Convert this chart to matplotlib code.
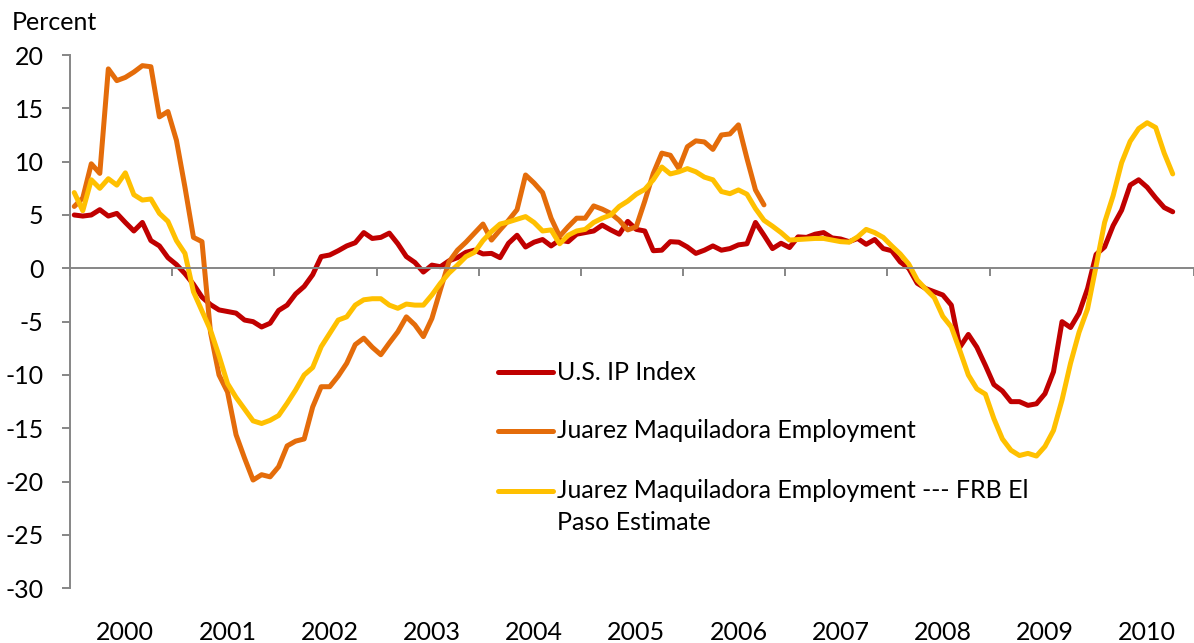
import numpy as np
import matplotlib
matplotlib.use("Agg")
import matplotlib.pyplot as plt
from matplotlib.lines import Line2D
import matplotlib.transforms as mtransforms

plt.rcParams['font.family'] = ['Lato', 'DejaVu Sans']

years = ['2000', '2001', '2002', '2003', '2004', '2005', '2006', '2007', '2008', '2009', '2010']
yticks = [20, 15, 10, 5, 0, -5, -10, -15, -20, -25, -30]

us_ip = [
    5.0, 4.9, 5.0, 5.5, 4.9, 5.15, 4.3, 3.5, 4.3, 2.6,
    2.1, 1.0, 0.35, -0.5, -1.5, -2.7, -3.4, -3.9, -4.05, -4.2,
    -4.85, -5.0, -5.5, -5.15, -3.95, -3.45, -2.4, -1.7, -0.6, 1.1,
    1.25, 1.65, 2.1, 2.4, 3.35, 2.8, 2.9, 3.3, 2.3, 1.1,
    0.55, -0.35, 0.3, 0.15, 0.7, 1.0, 1.5, 1.7, 1.35, 1.4,
    1.0, 2.35, 3.1, 2.0, 2.45, 2.7, 2.1, 2.65, 2.5, 3.2,
    3.35, 3.5, 4.05, 3.6, 3.2, 4.4, 3.65, 3.5, 1.65, 1.7,
    2.5, 2.45, 2.0, 1.4, 1.7, 2.1, 1.7, 1.85, 2.2, 2.3,
    4.3, 3.1, 1.85, 2.35, 1.95, 2.95, 2.9, 3.2, 3.35, 2.85,
    2.75, 2.5, 2.8, 2.25, 2.7, 1.85, 1.65, 0.6, 0.0, -1.4,
    -1.9, -2.2, -2.5, -3.45, -7.4, -6.2, -7.4, -9.1, -10.9, -11.5,
    -12.5, -12.5, -12.85, -12.7, -11.75, -9.7, -5.0, -5.55, -4.2, -1.9,
    1.3, 2.0, 4.0, 5.45, 7.8, 8.3, 7.6, 6.6, 5.7, 5.3,
]

juarez = [
    5.8, 6.6, 9.8, 8.9, 18.7, 17.6, 17.9, 18.4, 19.0, 18.9,
    14.2, 14.7, 12.0, 7.6, 2.9, 2.5, -6.0, -10.0, -11.6, -15.6,
    -17.8, -19.85, -19.35, -19.55, -18.6, -16.65, -16.2, -16.0, -13.0, -11.1,
    -11.1, -10.1, -8.9, -7.15, -6.55, -7.4, -8.1, -7.0, -5.95, -4.55,
    -5.3, -6.4, -4.7, -2.0, 0.6, 1.7, 2.45, 3.3, 4.15, 2.65,
    3.6, 4.5, 5.5, 8.75, 8.0, 7.1, 4.7, 3.0, 3.9, 4.7,
    4.7, 5.85, 5.55, 5.15, 4.5, 3.6, 3.9, 6.3, 8.9, 10.8,
    10.6, 9.35, 11.4, 11.95, 11.85, 11.15, 12.5, 12.6, 13.45, 10.3,
    7.35, 5.95,
]

juarez_est = [
    7.1, 5.4, 8.3, 7.5, 8.4, 7.8, 8.95, 6.9, 6.4, 6.5,
    5.15, 4.4, 2.6, 1.4, -2.2, -4.0, -5.8, -8.2, -10.8, -12.1,
    -13.2, -14.3, -14.55, -14.25, -13.8, -12.65, -11.4, -10.0, -9.3, -7.35,
    -6.1, -4.85, -4.55, -3.45, -2.95, -2.85, -2.85, -3.45, -3.75, -3.35,
    -3.45, -3.45, -2.5, -1.4, -0.45, 0.3, 1.1, 1.5, 2.6, 3.45,
    4.15, 4.35, 4.6, 4.85, 4.3, 3.5, 3.6, 2.3, 3.1, 3.5,
    3.65, 4.3, 4.7, 5.0, 5.8, 6.3, 6.95, 7.4, 8.3, 9.5,
    8.85, 9.05, 9.35, 9.05, 8.55, 8.3, 7.2, 7.0, 7.35, 6.95,
    5.6, 4.5, 3.95, 3.35, 2.65, 2.7, 2.75, 2.8, 2.8, 2.65,
    2.5, 2.45, 2.95, 3.65, 3.35, 2.9, 2.1, 1.35, 0.4, -1.1,
    -1.95, -2.75, -4.5, -5.5, -7.7, -10.0, -11.3, -11.8, -14.1, -16.0,
    -17.05, -17.55, -17.35, -17.6, -16.7, -15.2, -12.35, -8.9, -6.0, -3.8,
    0.2, 4.3, 6.8, 9.9, 11.9, 13.1, 13.65, 13.2, 10.8, 8.85,
]

labels = ['U.S. IP Index', 'Juarez Maquiladora Employment',
          'Juarez Maquiladora Employment --- FRB El\nPaso Estimate']
colors = ['#C00000', '#E46C0A', '#FFC000']

W, H = 1194, 643
fig = plt.figure(figsize=(W / 100, H / 100), dpi=100)
x0, x1 = 70, 1194
ytop, ybot = 55, 588.3
ax = fig.add_axes([x0 / W, 1 - ybot / H, (x1 - x0) / W, (ybot - ytop) / H])
px_per_month = 103 / 12
ax.set_xlim(0, (x1 - x0) / px_per_month)
ax.set_ylim(-30, 20)

fs = 18
lw = 3.6
for series, c in zip([us_ip, juarez, juarez_est], colors):
    xs = np.arange(len(series)) + 0.5
    ax.plot(xs, series, color=c, lw=lw, solid_capstyle='round',
            solid_joinstyle='round', clip_on=False)

axis_gray = '#868686'
for s in ['top', 'right']:
    ax.spines[s].set_visible(False)
ax.spines['left'].set_color(axis_gray)
ax.spines['left'].set_linewidth(1.4)
ax.spines['bottom'].set_position(('data', 0))
ax.spines['bottom'].set_color(axis_gray)
ax.spines['bottom'].set_linewidth(1.4)

ax.set_yticks(yticks)
ax.set_yticklabels([str(v) for v in yticks])
ax.tick_params(axis='y', direction='out', length=6, width=1.4, color=axis_gray,
               labelsize=fs, pad=13)
ax.set_xticks(np.arange(0, 12 * len(years) + 1, 12))
ax.set_xticklabels([])
ax.tick_params(axis='x', direction='out', length=6, width=1.4, color=axis_gray)

trans = mtransforms.blended_transform_factory(ax.transData, fig.transFigure)
for k, yr in enumerate(years):
    ax.text(12 * k + 6.5, 1 - 640 / H, yr, transform=trans, ha='center',
            va='baseline', fontsize=fs)

fig.text(12 / W, 1 - 22 / H, 'Percent', ha='left', va='center', fontsize=fs)

# legend
leg_y = [372, 431, 491]
for ly, lab, c in zip(leg_y, labels, colors):
    fig.add_artist(Line2D([498 / W, 553 / W], [1 - ly / H, 1 - ly / H],
                          color=c, lw=lw, solid_capstyle='round',
                          transform=fig.transFigure))
    for j, t in enumerate(lab.split('\n')):
        fig.text(557 / W, 1 - (ly + 31 * j) / H, t, ha='left', va='center', fontsize=fs)

fig.savefig('out.png', dpi=100)
